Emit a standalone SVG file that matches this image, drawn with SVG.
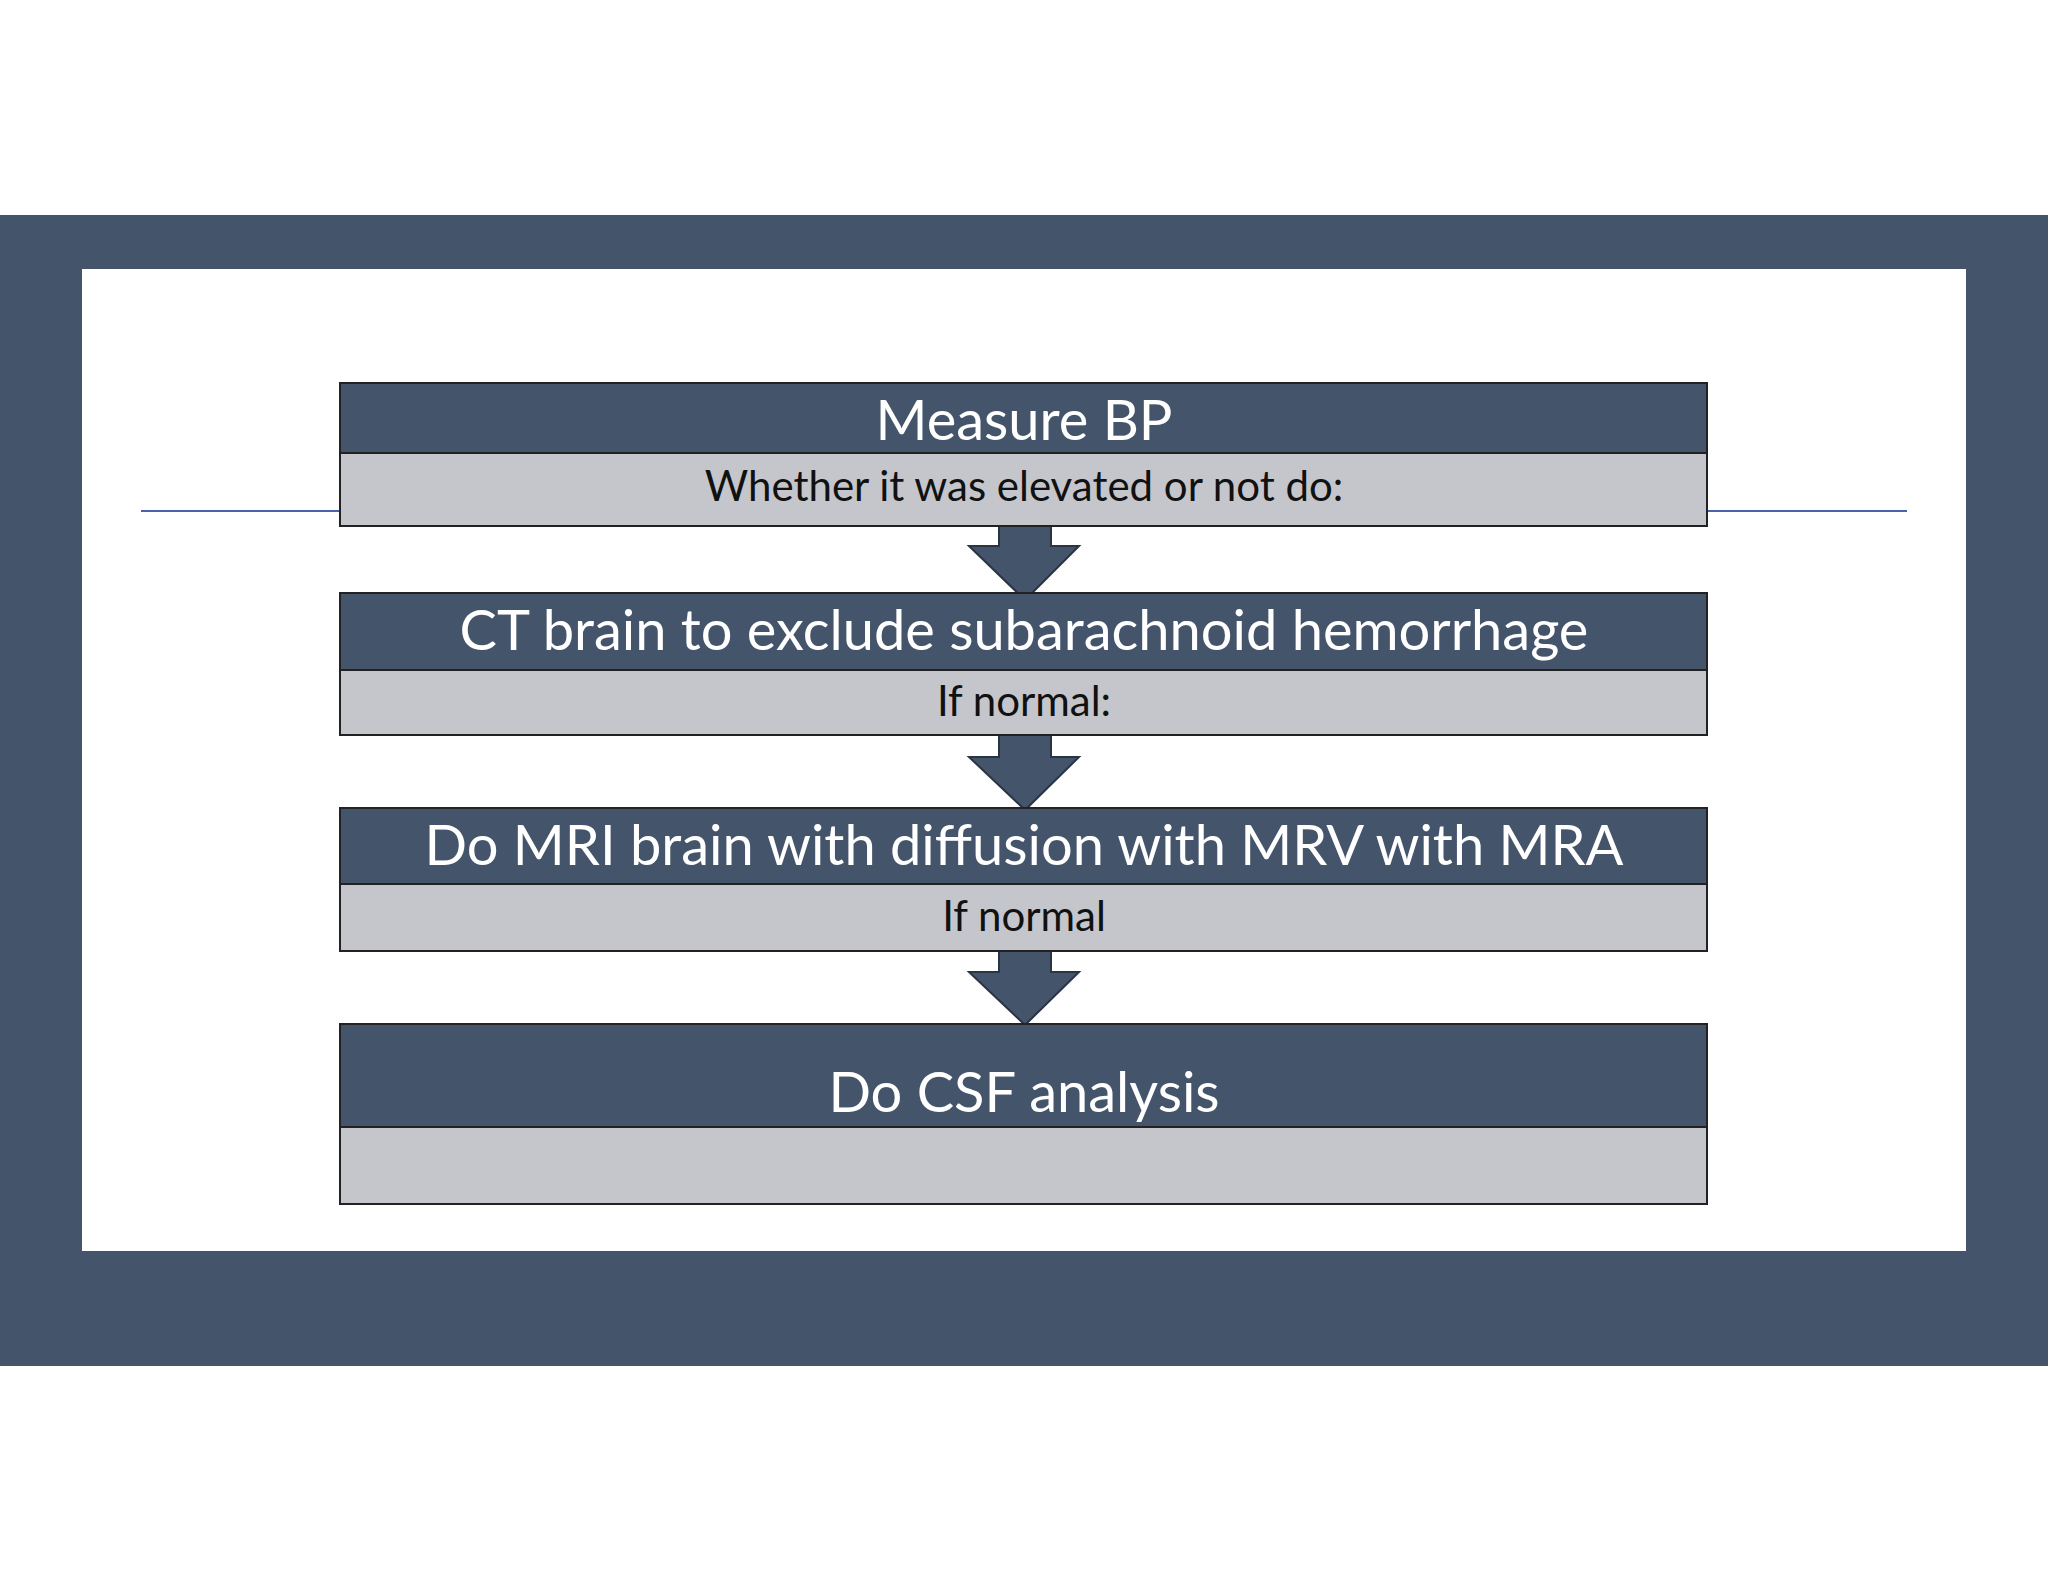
<svg xmlns="http://www.w3.org/2000/svg" width="2048" height="1582" viewBox="0 0 2048 1582">
<style>
.hd{fill:#44546b;stroke:#222;stroke-width:2}
.lt{fill:#c4c6cc;stroke:#222;stroke-width:2}
.t1{font-family:Lato,"Liberation Sans",sans-serif;font-size:56px;fill:#fff;text-anchor:middle}
.t2{font-family:Lato,"Liberation Sans",sans-serif;font-size:42px;fill:#111;text-anchor:middle}
.ar{fill:#44546b;stroke:#2a3444;stroke-width:2}
</style>
<rect width="2048" height="1582" fill="#fff"/>
<rect x="0" y="215" width="2048" height="1151" fill="#44546b"/>
<rect x="82" y="269" width="1884" height="982" fill="#fff"/>
<line x1="141" y1="511" x2="1907" y2="511" stroke="#4a62a8" stroke-width="2"/>
<g id="connectors">
<path class="ar" d="M999 520H1051V546H1079L1025 600L969 546H999Z"/>
<path class="ar" d="M999 735H1051V757H1079L1025 810L969 757H999Z"/>
<path class="ar" d="M999 951H1051V972H1079L1025 1025L969 972H999Z"/>
</g>
<g id="n1">
<rect class="lt" x="340" y="453" width="1367" height="73"/>
<rect class="hd" x="340" y="383" width="1367" height="70"/>
<text class="t1" x="1024" y="440">Measure BP</text>
<text class="t2" x="1024" y="501">Whether it was elevated or not do:</text>
</g>
<g id="n2">
<rect class="lt" x="340" y="670" width="1367" height="65"/>
<rect class="hd" x="340" y="593" width="1367" height="77"/>
<text class="t1" x="1024" y="650">CT brain to exclude subarachnoid hemorrhage</text>
<text class="t2" x="1024" y="716">If normal:</text>
</g>
<g id="n3">
<rect class="lt" x="340" y="884" width="1367" height="67"/>
<rect class="hd" x="340" y="808" width="1367" height="76"/>
<text class="t1" x="1024" y="865">Do MRI brain with diffusion with MRV with MRA</text>
<text class="t2" x="1024" y="931">If normal</text>
</g>
<g id="n4">
<rect class="lt" x="340" y="1127" width="1367" height="77" fill="#d0d2d8"/>
<rect class="hd" x="340" y="1024" width="1367" height="103"/>
<text class="t1" x="1024" y="1112">Do CSF analysis</text>
</g>
</svg>
